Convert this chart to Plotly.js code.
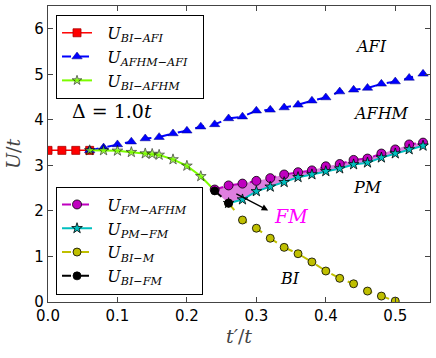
<!DOCTYPE html>
<html>
<head>
<meta charset="utf-8">
<script src="https://cdn.plot.ly/plotly-3.0.1.min.js"></script>
<style>
  html, body { margin: 0; padding: 0; background: #fff; }
  #chart { width: 436px; height: 358px; }
</style>
</head>
<body>
<div id="chart"></div>
<script>
// фазовая диаграмма U/t от t'/t

const biAfiX = [0.00, 0.02, 0.04, 0.06];
const biAfiY = [3.33, 3.33, 3.33, 3.33];

const afhmAfiX = [0.06, 0.08, 0.10, 0.12, 0.14, 0.16, 0.18, 0.20, 0.22, 0.24, 0.26, 0.28, 0.30,
                  0.32, 0.34, 0.36, 0.38, 0.40, 0.42, 0.44, 0.46, 0.48, 0.50, 0.52, 0.54];
const afhmAfiY = [3.33, 3.39, 3.46, 3.52, 3.59, 3.62, 3.70, 3.76, 3.85, 3.90, 4.03, 4.07, 4.20,
                  4.22, 4.27, 4.33, 4.42, 4.49, 4.62, 4.66, 4.70, 4.79, 4.84, 4.92, 5.01];

const biAfhmX = [0.06, 0.08, 0.10, 0.12, 0.14, 0.15, 0.16, 0.18, 0.20, 0.22, 0.24];
const biAfhmY = [3.33, 3.33, 3.32, 3.29, 3.26, 3.25, 3.23, 3.13, 2.99, 2.76, 2.45];

const fmAfhmX = [0.24, 0.26, 0.28, 0.30, 0.32, 0.34, 0.36, 0.38, 0.40, 0.42, 0.44, 0.46, 0.48, 0.50, 0.52, 0.54];
const fmAfhmY = [2.47, 2.56, 2.60, 2.66, 2.72, 2.80, 2.85, 2.89, 2.98, 3.03, 3.12, 3.15, 3.26, 3.35, 3.46, 3.50];

const pmFmX = [0.26, 0.28, 0.30, 0.32, 0.34, 0.36, 0.38, 0.40, 0.42, 0.44, 0.46, 0.48, 0.50, 0.52, 0.54];
const pmFmY = [2.17, 2.25, 2.43, 2.53, 2.63, 2.74, 2.80, 2.87, 2.93, 3.02, 3.06, 3.17, 3.26, 3.35, 3.43];

const biMX = [0.26, 0.28, 0.30, 0.32, 0.34, 0.36, 0.38, 0.40, 0.42, 0.44, 0.46, 0.48, 0.50];
const biMY = [2.17, 1.80, 1.62, 1.40, 1.20, 1.06, 0.88, 0.68, 0.52, 0.40, 0.24, 0.13, 0.02];

const biFmX = [0.24, 0.26];
const biFmY = [2.44, 2.17];

const serif = 'DejaVu Serif, Liberation Serif, serif';

function lbl(a, b) {
    return '&nbsp;&nbsp;<i>U</i><sub><i>' + a + '−' + b + '</i></sub>&nbsp;&nbsp;';
}

// нижняя граница области FM: сначала BI-FM, потом PM-FM
const lastBf = biFmX[biFmX.length - 1];
const lowX = biFmX.concat(pmFmX.filter(x => x > lastBf));
const lowY = biFmY.concat(pmFmY.filter((y, i) => pmFmX[i] > lastBf));

const fillTrace = {
    x: fmAfhmX.concat(lowX.slice().reverse()),
    y: fmAfhmY.concat(lowY.slice().reverse()),
    mode: 'lines',
    fill: 'toself',
    fillcolor: 'rgba(191,0,191,0.5)',
    line: { width: 0 },
    showlegend: false,
    hoverinfo: 'skip'
};

const edge = { color: '#000', width: 0.8 };

const traces = [
    fillTrace,
    {
        x: biAfiX, y: biAfiY, name: lbl('BI', 'AFI'), legend: 'legend',
        mode: 'lines+markers',
        line: { color: '#ff0000', width: 1.5 },
        marker: { symbol: 'square', size: 8, color: '#ff0000', line: { color: '#aa0000', width: 0.8 } }
    },
    {
        x: afhmAfiX, y: afhmAfiY, name: lbl('AFHM', 'AFI'), legend: 'legend',
        mode: 'lines+markers',
        line: { color: '#0000ff', width: 2, dash: 'dash' },
        marker: { symbol: 'triangle-up', size: 9, color: '#0000ff', line: { color: '#000080', width: 0.5 } }
    },
    {
        x: biAfhmX, y: biAfhmY, name: lbl('BI', 'AFHM'), legend: 'legend',
        mode: 'lines+markers',
        line: { color: '#7cfc00', width: 2 },
        marker: { symbol: 'star', size: biAfhmX.map((x, i) => i === biAfhmX.length - 1 ? 0 : 8),
                  color: '#7cfc00', line: edge }
    },
    {
        x: fmAfhmX, y: fmAfhmY, name: lbl('FM', 'AFHM'), legend: 'legend2',
        mode: 'lines+markers',
        line: { color: '#bf00bf', width: 2, dash: 'dash' },
        marker: { symbol: 'circle', size: 9, color: '#bf00bf', line: edge }
    },
    {
        x: pmFmX, y: pmFmY, name: lbl('PM', 'FM'), legend: 'legend2',
        mode: 'lines+markers',
        line: { color: '#00bfbf', width: 2 },
        marker: { symbol: 'star', size: 8, color: '#00bfbf', line: edge }
    },
    {
        x: biMX, y: biMY, name: lbl('BI', 'M'), legend: 'legend2',
        mode: 'lines+markers',
        line: { color: '#bfbf00', width: 2, dash: 'dash' },
        marker: { symbol: 'circle', size: 8, color: '#bfbf00', line: edge }
    },
    {
        x: biFmX, y: biFmY, name: lbl('BI', 'FM'), legend: 'legend2',
        mode: 'lines+markers',
        line: { color: '#000000', width: 2, dash: 'dash' },
        marker: { symbol: 'circle', size: 8, color: '#000000', line: edge }
    }
];

const axisBase = {
    showgrid: false,
    zeroline: false,
    showline: true,
    linecolor: '#444',
    linewidth: 1.2,
    mirror: 'allticks',
    ticks: 'inside',
    ticklen: 5,
    tickcolor: '#444',
    tickfont: { family: 'DejaVu Sans, sans-serif', size: 15, color: '#000' }
};

const legendBase = {
    x: 0.021, xanchor: 'left',
    yanchor: 'top',
    bgcolor: '#fff',
    bordercolor: '#000',
    borderwidth: 1,
    itemwidth: 30,
    traceorder: 'normal',
    font: { family: serif, size: 16, color: '#000' }
};

function note(x, y, text, size, color) {
    return { x: x, y: y, xref: 'x', yref: 'y', text: text, showarrow: false,
             font: { family: serif, size: size, color: color || '#000' } };
}

const layout = {
    width: 436,
    height: 358,
    margin: { l: 48, r: 6, t: 6, b: 56 },
    paper_bgcolor: '#fff',
    plot_bgcolor: '#fff',
    xaxis: Object.assign({}, axisBase, {
        range: [0, 0.55], dtick: 0.1, tickformat: '.1f',
        title: { text: '<i>t′</i>/<i>t</i>', font: { family: serif, size: 19 }, standoff: 4 }
    }),
    yaxis: Object.assign({}, axisBase, {
        range: [0, 6.5], dtick: 1,
        title: { text: '<i>U</i>/<i>t</i>', font: { family: serif, size: 19 }, standoff: 8 }
    }),
    legend: Object.assign({}, legendBase, { y: 0.97 }),
    legend2: Object.assign({}, legendBase, { y: 0.39 }),
    annotations: [
        note(0.092, 4.2, 'Δ = 1.0<i>t</i>', 19),
        note(0.465, 5.62, '<i>AFI</i>', 16),
        note(0.48, 4.13, '<i>AFHM</i>', 16),
        note(0.46, 2.52, '<i>PM</i>', 16),
        note(0.35, 1.88, '<i>FM</i>', 19, '#ff00ff'),
        note(0.348, 0.52, '<i>BI</i>', 16),
        {
            x: 0.317, y: 2.01, xref: 'x', yref: 'y',
            ax: 0.269, ay: 2.39, axref: 'x', ayref: 'y',
            text: '', showarrow: true,
            arrowhead: 2, arrowsize: 1, arrowwidth: 1.3, arrowcolor: '#000'
        }
    ],
    showlegend: true
};

Plotly.newPlot('chart', traces, layout, { displayModeBar: false, staticPlot: true });
</script>
</body>
</html>
